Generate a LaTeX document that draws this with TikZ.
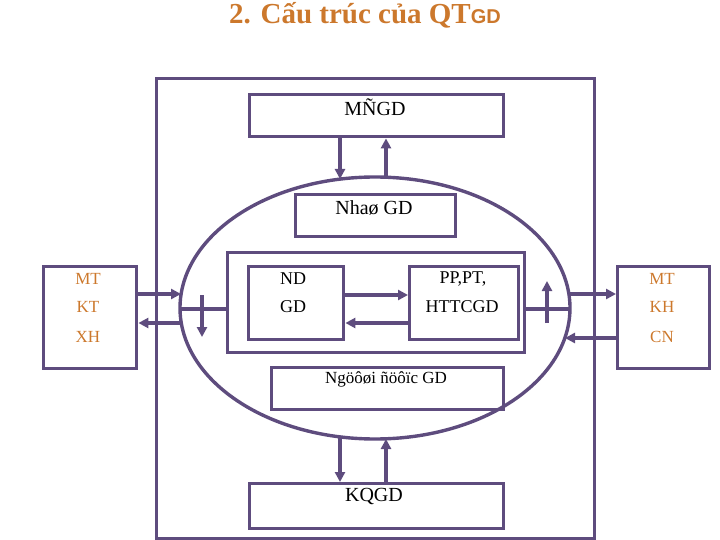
\documentclass[tikz,border=0pt]{standalone}
\usepackage{fontspec}
\setmainfont{Liberation Serif}
\newfontfamily\sansf{Liberation Sans}
\usetikzlibrary{arrows.meta,shapes.geometric}
\definecolor{pur}{RGB}{94,76,126}
\definecolor{org}{RGB}{204,120,44}
\begin{document}
\begin{tikzpicture}[x=1pt,y=-1pt,
  box/.style={draw=pur,line width=3.4pt,inner sep=0pt,anchor=north west},
  conn/.style={draw=pur,line width=3.4pt,-{Triangle[length=10pt,width=10pt]}},
  plain/.style={draw=pur,line width=3.4pt},
  txt/.style={inner sep=0pt,font=\fontsize{18}{20}\selectfont},
  btxt/.style={inner sep=0pt,font=\fontsize{20}{22}\selectfont},
  otxt/.style={inner sep=0pt,text=org,font=\fontsize{17}{19}\selectfont}]
\useasboundingbox (0,0) rectangle (720,540);
% title
\node[anchor=base,inner sep=0pt,text=org] (title) at (365,24)
  {\fontsize{29}{31}\selectfont\bfseries 2. Cấu trúc của QT\sansf\fontsize{20}{22}\selectfont GD};
% outer frame and ellipse
\node[box,minimum width=438,minimum height=460] (outer) at (155,77) {};
\node[draw=pur,line width=3.4pt,ellipse,inner sep=0pt,minimum width=390,minimum height=262] (E) at (375,308) {};
% boxes
\node[box,minimum width=254,minimum height=42] (MN) at (248,93) {};
\node[box,minimum width=160,minimum height=42] (NH) at (294,193) {};
\node[box,minimum width=297,minimum height=100] (M) at (226,251) {};
\node[box,minimum width=95,minimum height=73] (ND) at (247,265) {};
\node[box,minimum width=109,minimum height=73] (PP) at (408,265) {};
\node[box,minimum width=232,minimum height=42] (NG) at (270,366) {};
\node[box,minimum width=254,minimum height=45] (KQ) at (248,482) {};
\node[box,minimum width=93,minimum height=102] (L) at (42,265) {};
\node[box,minimum width=92,minimum height=102] (R) at (616,265) {};
% texts
\node[btxt] (tMN) at (375,107) {MÑGD};
\node[btxt] (tNH) at (374,208) {Nhaø GD};
\node[txt] (tND1) at (293,279) {ND};
\node[txt] (tND2) at (293,307) {GD};
\node[txt] (tPP1) at (463,279) {PP,PT,};
\node[txt] (tPP2) at (462,307) {HTTCGD};
\node[txt,font=\fontsize{17}{19}\selectfont] (tNG) at (386,379) {Ngöôøi ñöôïc GD};
\node[btxt] (tKQ) at (374,496) {KQGD};
\node[otxt] (tL1) at (88,279) {MT};
\node[otxt] (tL2) at (88,307) {KT};
\node[otxt] (tL3) at (88,337) {XH};
\node[otxt] (tR1) at (662,279) {MT};
\node[otxt] (tR2) at (662,307) {KH};
\node[otxt] (tR3) at (662,337) {CN};
% points on the ellipse and free ends
\coordinate (eT1) at (340,179);
\coordinate (eT2) at (386,177);
\coordinate (eB1) at (340,437);
\coordinate (eB2) at (386,439);
\coordinate (eL1) at (181,294);
\coordinate (eL2) at (181,323);
\coordinate (eL3) at (180,309);
\coordinate (eR1) at (569,294);
\coordinate (eR2) at (565,338);
\coordinate (eR3) at (570,309);
\coordinate (dA1) at (202,295);
\coordinate (dA2) at (202,337);
\coordinate (uA1) at (547,323);
\coordinate (uA2) at (547,281);
\coordinate (y1) at (0,295);
\coordinate (y2) at (0,323);
% connectors
\draw[conn] (MN.south -| eT1) -- (eT1);
\draw[conn] (eT2) -- (MN.south -| eT2);
\draw[conn] (eB1) -- (KQ.north -| eB1);
\draw[conn] (KQ.north -| eB2) -- (eB2);
\draw[conn] (L.east |- eL1) -- (eL1);
\draw[conn] (eL2) -- (L.east |- eL2);
\draw[plain] (eL3) -- (M.west |- eL3);
\draw[conn] (dA1) -- (dA2);
\draw[conn] (eR1) -- (R.west |- eR1);
\draw[conn] (R.west |- eR2) -- (eR2);
\draw[plain] (M.east |- eR3) -- (eR3);
\draw[conn] (uA1) -- (uA2);
\draw[conn] (ND.east |- y1) -- (PP.west |- y1);
\draw[conn] (PP.west |- y2) -- (ND.east |- y2);
\end{tikzpicture}
\end{document}
